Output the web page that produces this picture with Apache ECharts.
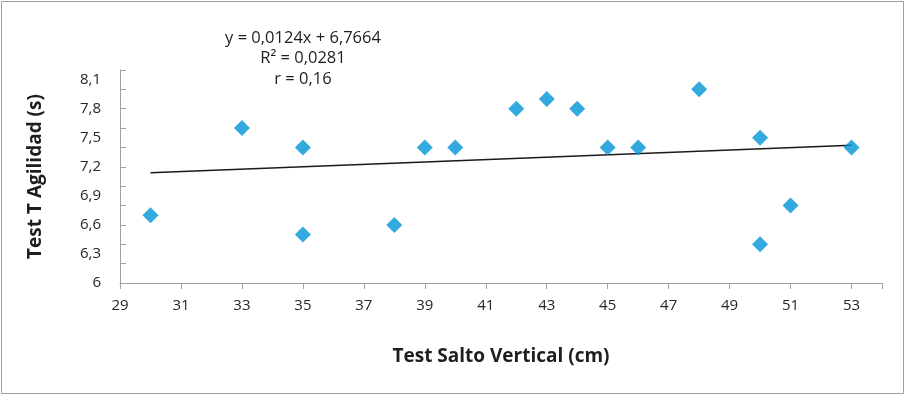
<!DOCTYPE html>
<html>
<head>
<meta charset="utf-8">
<script src="https://cdn.jsdelivr.net/npm/echarts@6/dist/echarts.min.js"></script>
<style>
  html, body { margin: 0; padding: 0; background: #fff; }
  #chart { width: 906px; height: 397px; }
</style>
</head>
<body>
<div id="chart"></div>
<script>
// Scatter values
const saltoVertical = [30, 33, 35, 35, 38, 39, 40, 42, 43, 44, 45, 46, 48, 50, 50, 51, 53];
const testAgilidad = [6.7, 7.6, 7.4, 6.5, 6.6, 7.4, 7.4, 7.8, 7.9, 7.8, 7.4, 7.4, 8.0, 7.5, 6.4, 6.8, 7.4];

// Linear trend as printed on the chart
const trendSlope = 0.0124;
const trendIntercept = 6.7664;
const trendRange = [30, 53];
const trendLabel = ['y = 0,0124x + 6,7664', 'R² = 0,0281', 'r = 0,16'];

const font = '"Open Sans", sans-serif';
const comma = v => String(Math.round(v * 10) / 10).replace('.', ',');

let chart = echarts.init(document.getElementById('chart'), null, { renderer: 'canvas' });

chart.setOption({
  animation: false,
  backgroundColor: '#fff',
  textStyle: { fontFamily: font },
  graphic: [
    {
      type: 'rect',
      shape: { x: 1.5, y: 1.5, width: 902, height: 392 },
      style: { fill: 'none', stroke: '#a0a0a0', lineWidth: 1 },
      silent: true
    }
  ].concat(trendLabel.map((t, i) => ({
    type: 'text',
    x: 303,
    y: 38 + i * 20.5,
    style: {
      text: t,
      align: 'center',
      verticalAlign: 'middle',
      fill: '#1e1e1e',
      font: '500 16.5px ' + font
    }
  }))),
  grid: { left: 120, right: 24, top: 70, bottom: 114 },
  xAxis: {
    type: 'value',
    min: 29,
    max: 54,
    interval: 2,
    name: 'Test Salto Vertical (cm)',
    nameLocation: 'center',
    nameGap: 64,
    nameTextStyle: { fontSize: 19, fontWeight: 'bold', color: '#1e1e1e', fontFamily: font },
    splitLine: { show: false },
    axisLine: { lineStyle: { color: '#a0a0a0', width: 1 } },
    axisTick: { length: 6, lineStyle: { color: '#a0a0a0' } },
    axisLabel: {
      color: '#262626',
      fontSize: 15,
      margin: 15,
      formatter: v => (v === 54 ? '' : String(v))
    }
  },
  yAxis: [
    {
      // ticks every 0.2 along the axis line
      type: 'value',
      min: 6,
      max: 8.2,
      interval: 0.2,
      name: 'Test T Agilidad (s)',
      nameLocation: 'center',
      nameGap: 75,
      nameRotate: 90,
      nameTextStyle: { fontSize: 19, fontWeight: 'bold', color: '#1e1e1e', fontFamily: font },
      splitLine: { show: false },
      axisLine: { show: true, lineStyle: { color: '#a0a0a0', width: 1 } },
      axisTick: { show: true, inside: true, length: 6, lineStyle: { color: '#a0a0a0' } },
      axisLabel: { show: false }
    },
    {
      // labels every 0.3
      type: 'value',
      position: 'left',
      min: 6,
      max: 8.2,
      interval: 0.3,
      splitLine: { show: false },
      axisLine: { show: false },
      axisTick: { show: false },
      axisLabel: {
        color: '#262626',
        fontSize: 15,
        margin: 19,
        showMaxLabel: false,
        formatter: v => (v > 8.15 ? '' : comma(v))
      }
    }
  ],
  series: [
    {
      type: 'scatter',
      symbol: 'diamond',
      symbolSize: 16,
      itemStyle: { color: '#0095d5' },
      data: saltoVertical.map((x, i) => [x, testAgilidad[i]])
    },
    {
      type: 'line',
      symbol: 'none',
      z: 1,
      lineStyle: { color: '#1a1a1a', width: 1.5 },
      data: trendRange.map(x => [x, trendSlope * x + trendIntercept])
    }
  ]
});
</script>
</body>
</html>
